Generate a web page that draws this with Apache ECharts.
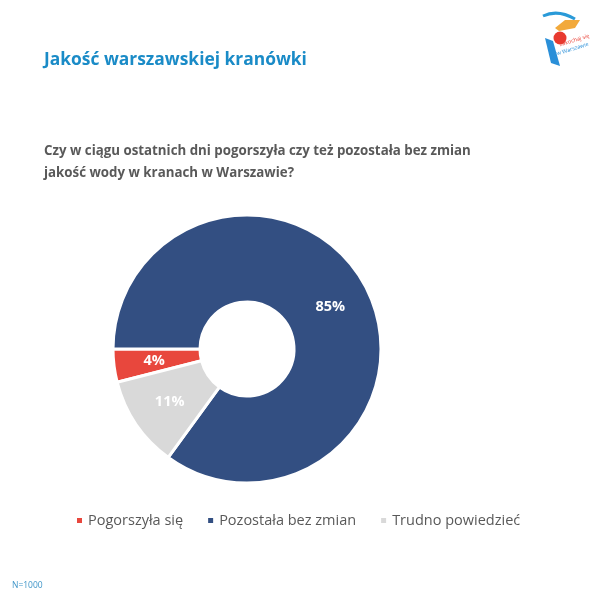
<!DOCTYPE html>
<html><head><meta charset="utf-8">
<script src="https://cdn.jsdelivr.net/npm/echarts@6/dist/echarts.min.js"></script>
<style>html,body{margin:0;padding:0;background:#fff}#c{width:600px;height:600px}</style>
</head><body><div id="c"></div>
<script>
var categories = ['Pogorszyła się', 'Pozostała bez zmian', 'Trudno powiedzieć'];
var values = [4, 85, 11];
var colors = ['#e8473d', '#334f82', '#d9d9d9'];
var labelColors = ['#ffffff', '#ffffff', '#ffffff'];

var chart = echarts.init(document.getElementById('c'), null, {renderer: 'canvas'});
var font = '"Open Sans", "Noto Sans", sans-serif';
chart.setOption({
  backgroundColor: '#ffffff',
  animation: false,
  title: [
    {text: 'Jakość warszawskiej kranówki', left: 39, top: 47,
     textStyle: {color: '#1a8bc7', fontSize: 17.4, fontWeight: 'bold', fontFamily: font}},
    {text: 'Czy w ciągu ostatnich dni pogorszyła czy też pozostała bez zmian\njakość wody w kranach w Warszawie?',
     left: 39, top: 135,
     textStyle: {color: '#595959', fontSize: 13.3, fontWeight: 'bold', fontFamily: font, lineHeight: 22}},
    {text: 'N=1000', left: 7, top: 576,
     textStyle: {color: '#3f95c8', fontSize: 8.5, fontWeight: 'normal', fontFamily: font}}
  ],
  legend: {
    data: categories,
    left: 70, top: 508,
    itemWidth: 7, itemHeight: 7, itemGap: 23, icon: 'rect',
    textStyle: {color: '#595959', fontSize: 14.5, fontFamily: font}
  },
  graphic: [
    {type: 'bezierCurve', shape: {x1: 543, y1: 16, x2: 575, y2: 19, cpx1: 558, cpy1: 9}, style: {stroke: '#2a9ad8', lineWidth: 3, fill: null}},
    {type: 'polygon', shape: {points: [[555, 28], [565, 20], [580, 20], [575, 28], [559, 31]]}, style: {fill: '#f2a93b'}},
    {type: 'circle', shape: {cx: 560, cy: 38, r: 6.5}, style: {fill: '#e83a2f'}},
    {type: 'polygon', shape: {points: [[545, 38], [551, 63], [560, 66], [553, 41]]}, style: {fill: '#2a8fd8'}},
    {type: 'text', x: 559, y: 42, rotation: 0.3, style: {text: 'zakochaj się', fill: '#e83a2f', fontSize: 5.5, fontFamily: font}},
    {type: 'text', x: 556, y: 51, rotation: 0.3, style: {text: 'w Warszawie', fill: '#2a8fd8', fontSize: 5.5, fontFamily: font}}
  ],
  series: [{
    type: 'pie',
    center: [247, 349],
    radius: [47, 134],
    startAngle: 194.4,
    clockwise: true,
    avoidLabelOverlap: false,
    itemStyle: {borderColor: '#ffffff', borderWidth: 3},
    label: {
      show: true, position: 'inside', formatter: '{c}%',
      fontSize: 14.5, fontWeight: 'bold', fontFamily: font, color: '#ffffff'
    },
    labelLine: {show: false},
    emphasis: {disabled: true},
    data: categories.map(function (n, i) {
      return {name: n, value: values[i], itemStyle: {color: colors[i]}, label: {color: labelColors[i]}};
    })
  }]
});
</script></body></html>
